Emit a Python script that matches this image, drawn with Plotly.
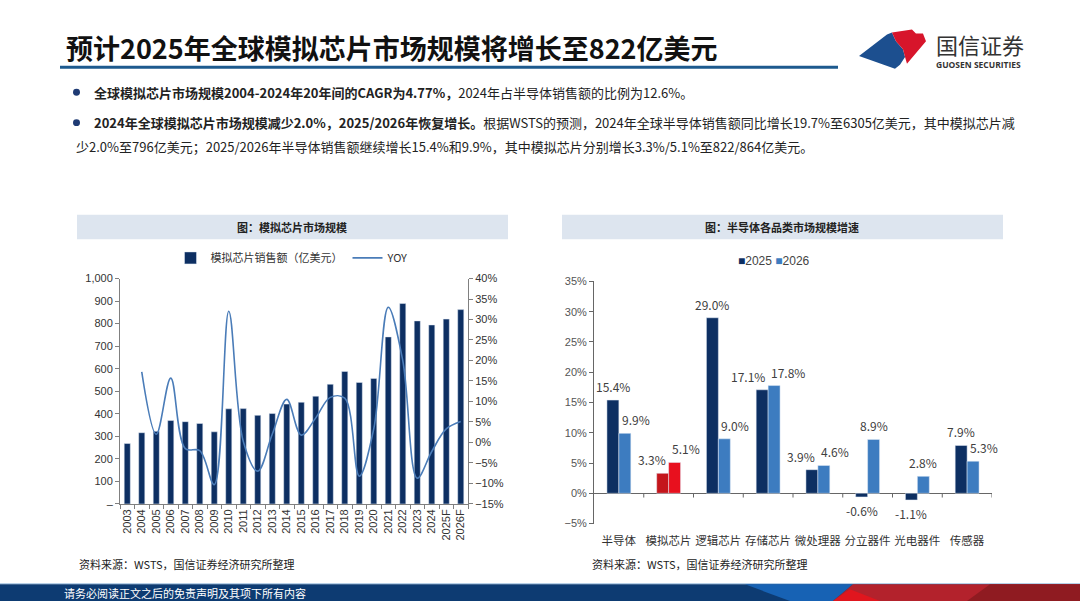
import plotly.graph_objects as go

W, H = 1080, 607

# 左图：模拟芯片市场规模
years = ["2003", "2004", "2005", "2006", "2007", "2008", "2009", "2010", "2011", "2012",
         "2013", "2014", "2015", "2016", "2017", "2018", "2019", "2020", "2021", "2022",
         "2023", "2024", "2025F", "2026F"]
sales = [268, 316, 322, 370, 365, 357, 320, 422, 423, 393, 401, 443, 451, 478, 531, 588,
         539, 557, 741, 889, 812, 794, 820, 862]
yoy = [None, 17.2, 2.0, 15.7, -1.5, -2.0, -10.3, 32.0, 0.3, -7.0, 2.0, 10.5, 1.8, 6.0,
       11.0, 10.8, -8.2, 3.3, 33.0, 20.0, -8.7, -2.2, 3.3, 5.1]
left_ticks = [0, 100, 200, 300, 400, 500, 600, 700, 800, 900, 1000]
left_ticktext = ["–", "100", "200", "300", "400", "500", "600", "700", "800", "900", "1,000"]

# 右图：半导体各品类市场规模增速
cats = ["半导体", "模拟芯片", "逻辑芯片", "存储芯片", "微处理器", "分立器件", "光电器件", "传感器"]
g2025 = [15.4, 3.3, 29.0, 17.1, 3.9, -0.6, -1.1, 7.9]
g2026 = [9.9, 5.1, 9.0, 17.8, 4.6, 8.9, 2.8, 5.3]

NAVY = "#0d2f62"
BLUE = "#3d7cc0"
LINE = "#4a7cb8"
FONT = "Noto Sans CJK SC"
BAR_W = 0.24

fig = go.Figure()

# 左图
fig.add_trace(go.Bar(x=years, y=sales, name="模拟芯片销售额（亿美元）", marker_color=NAVY,
                     width=0.42, xaxis="x", yaxis="y", legend="legend"))
fig.add_trace(go.Scatter(x=years, y=yoy, name="YOY", mode="lines", line=dict(color=LINE, width=1.6, shape="spline"),
                         connectgaps=False, xaxis="x", yaxis="y2", legend="legend"))

# 右图
c25 = ["#c4161c" if c == "模拟芯片" else NAVY for c in cats]
c26 = ["#e8101e" if c == "模拟芯片" else BLUE for c in cats]
fig.add_trace(go.Bar(x=cats, y=g2025, name="2025", marker_color=c25, width=BAR_W, offset=-BAR_W,
                     xaxis="x2", yaxis="y3", showlegend=False))
fig.add_trace(go.Bar(x=cats, y=g2026, name="2026", marker_color=c26, width=BAR_W, offset=0,
                     xaxis="x2", yaxis="y3", showlegend=False))

# 数据标签：两柱数值接近或2025柱更高时，标签向左右错开
half = 50 * BAR_W / 2  # 半个柱宽（像素）
for c, a, b in zip(cats, g2025, g2026):
    close = a > 0 and b > 0 and abs(a - b) < 2.5
    for v, side in ((a, -1), (b, 1)):
        if close:
            anchor, xs = ("right", -1) if side < 0 else ("left", 1)
        elif side > 0 and a > b > 0:
            anchor, xs = "left", 1
        else:
            anchor, xs = "center", side * half
        fig.add_annotation(x=c, y=v, xref="x2", yref="y3", text=f"{v:.1f}%", showarrow=False,
                           xanchor=anchor, xshift=xs, yanchor="bottom" if v >= 0 else "top",
                           yshift=3 if v >= 0 else -3, font=dict(size=12, color="#404040", family=FONT))

# 分类边界刻度（零线上）
for i in range(len(cats)):
    fig.add_shape(type="line", xref="x2", yref="y3", x0=i + 0.5, x1=i + 0.5, y0=0, y1=-0.7,
                  line=dict(color="#666", width=1))


def rect(x0, y0, x1, y1, color):
    fig.add_shape(type="rect", xref="paper", yref="paper", x0=x0 / W, x1=x1 / W,
                  y0=1 - y1 / H, y1=1 - y0 / H, fillcolor=color, line_width=0, layer="below")


def poly(points, color):
    path = "M " + " L ".join(f"{x / W:.4f},{1 - y / H:.4f}" for x, y in points) + " Z"
    fig.add_shape(type="path", xref="paper", yref="paper", path=path, fillcolor=color, line_width=0)


def text(x, y, s, size, color="#222", anchor="left", family=FONT):
    fig.add_annotation(x=x / W, y=1 - y / H, xref="paper", yref="paper", text=s, showarrow=False,
                       xanchor=anchor, yanchor="middle", align="left",
                       font=dict(size=size, color=color, family=family))


# 标题与下划线
text(64, 42, "<b>预计2025年全球模拟芯片市场规模将增长至822亿美元</b>", 27, "#111")
rect(60, 61, 838, 64, "#1d5a8e")

# 国信证券 logo
poly([(859, 51), (887, 29), (892, 27), (896, 36), (903, 44), (905, 52), (900, 60), (895, 64)], "#1c4f8f")
poly([(892, 27), (912, 24), (916, 28), (923, 28), (926, 36), (907, 59), (905, 52), (903, 44), (896, 36)], "#d7152b")
text(934, 39, "国信证券", 22, "#333")
text(934, 60, "<b>GUOSEN SECURITIES</b>", 8.5, "#333", family="Open Sans")

# 要点
for yy in (88, 119):
    fig.add_shape(type="circle", xref="paper", yref="paper", x0=73 / W, x1=80 / W,
                  y0=1 - (yy + 3.5) / H, y1=1 - (yy - 3.5) / H, fillcolor="#1f3b74", line_width=0)
text(92, 88, "<b>全球模拟芯片市场规模2004-2024年20年间的CAGR为4.77%，</b>2024年占半导体销售额的比例为12.6%。", 13)
text(92, 119, "<b>2024年全球模拟芯片市场规模减少2.0%，2025/2026年恢复增长。</b>根据WSTS的预测，2024年全球半导体销售额同比增长19.7%至6305亿美元，其中模拟芯片减", 13)
text(74, 143, "少2.0%至796亿美元；2025/2026年半导体销售额继续增长15.4%和9.9%，其中模拟芯片分别增长3.3%/5.1%至822/864亿美元。", 13)

# 图表标题栏
rect(77, 213, 508, 238, "#dde5ef")
rect(562, 213, 1003, 238, "#dde5ef")
text(292, 225.5, "<b>图：模拟芯片市场规模</b>", 11, "#222", anchor="center")
text(782, 225.5, "<b>图：半导体各品类市场规模增速</b>", 11, "#222", anchor="center")

# 右图图例
text(774, 260, f"<span style='color:{NAVY}'>■</span>2025 <span style='color:{BLUE}'>■</span>2026",
     12, "#444", anchor="center", family="Liberation Sans")

# 资料来源
text(77, 569, "资料来源：WSTS，国信证券经济研究所整理", 11, "#222")
text(590, 569, "资料来源：WSTS，国信证券经济研究所整理", 11, "#222")

# 页脚
rect(0, 589, W, 590, "#9fc0e0")
rect(0, 590, W, H, "#0d3b72")
poly([(745, 590), (853, 590), (833, 607), (790, 607)], "#1762b4")
poly([(853, 590), (1080, 590), (1080, 607), (833, 607)], "#b3222c")
poly([(833, 607), (850, 595), (880, 607)], "#e0161e")
poly([(990, 590), (1080, 590), (1080, 607), (967, 607)], "#8f1b21")
text(62, 599, "请务必阅读正文之后的免责声明及其项下所有内容", 11, "white")

axis_font = dict(size=11, color="#333", family="Liberation Sans")

fig.update_layout(
    width=W, height=H,
    margin=dict(l=0, r=0, t=0, b=0),
    paper_bgcolor="white", plot_bgcolor="white",
    font=dict(family=FONT, color="#333"),
    barmode="group",
    xaxis=dict(domain=[120 / W, 468 / W], anchor="y", type="category", range=[-0.5, 23.5],
               showline=True, linecolor="#808080", ticks="outside", tickson="boundaries",
               ticklen=4, tickcolor="#808080", tickangle=-90, tickfont=axis_font, showgrid=False),
    yaxis=dict(domain=[1 - 508 / H, 1 - 278 / H], anchor="x", range=[0, 1000],
               tickvals=left_ticks, ticktext=left_ticktext, showline=True, linecolor="#808080",
               ticks="outside", ticklen=4, tickcolor="#808080", showgrid=False, zeroline=False,
               tickfont=axis_font),
    yaxis2=dict(overlaying="y", anchor="x", side="right", range=[-15, 40], dtick=5, ticksuffix="%",
                showline=True, linecolor="#808080", ticks="outside", ticklen=4, tickcolor="#808080",
                showgrid=False, zeroline=False, tickfont=axis_font),
    xaxis2=dict(domain=[594 / W, 992 / W], anchor="y3", type="category", range=[-0.5, 7.5],
                showline=False, ticks="", showgrid=False, tickangle=0, automargin=False,
                ticklabelstandoff=9, tickfont=dict(size=11.5, color="#333")),
    yaxis3=dict(domain=[1 - 528 / H, 1 - 281 / H], anchor="x2", range=[-5, 35], dtick=5, ticksuffix="%",
                showline=True, linecolor="#666", ticks="outside", ticklen=4, tickcolor="#666",
                showgrid=False, zeroline=True, zerolinecolor="#666", zerolinewidth=1,
                tickfont=dict(size=11, color="#555", family="Liberation Sans")),
    legend=dict(orientation="h", x=292 / W, xanchor="center", y=1 - 257 / H, yanchor="middle",
                font=dict(size=11, color="#333"), itemwidth=30, bgcolor="rgba(0,0,0,0)"),
)

fig.write_html("out.html", config={"displayModeBar": False},
               post_script="document.body.style.margin='0';document.documentElement.style.overflow='hidden';")
